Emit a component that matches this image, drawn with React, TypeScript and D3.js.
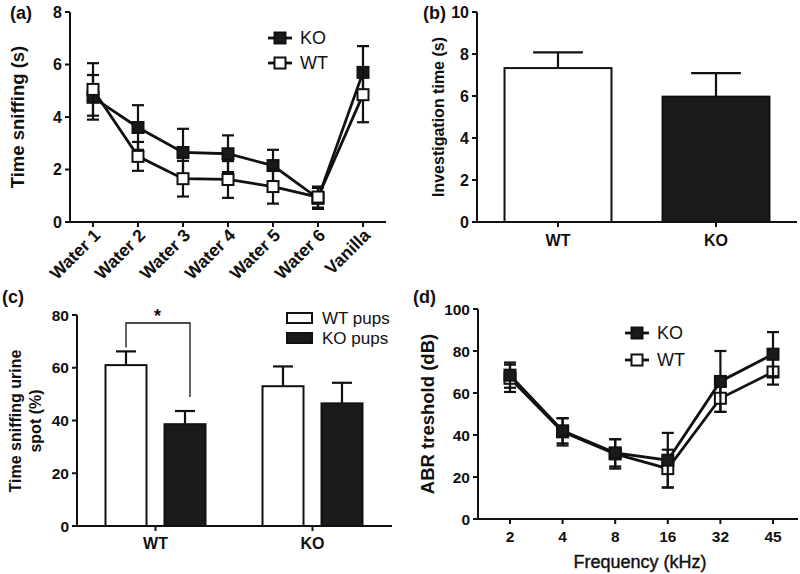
import React from "react";
import * as d3 from "d3";

// ---------- Data ----------
// Panel (a)
const catsA = ["Water 1", "Water 2", "Water 3", "Water 4", "Water 5", "Water 6", "Vanilla"];
const koA = [4.75, 3.6, 2.65, 2.6, 2.15, 0.9, 5.7];
const koAErr = [0.85, 0.85, 0.9, 0.7, 0.6, 0.4, 1.0];
const wtA = [5.05, 2.5, 1.65, 1.62, 1.35, 0.95, 4.85];
const wtAErr = [1.0, 0.55, 0.68, 0.7, 0.65, 0.4, 1.05];
const ticksA = [0, 2, 4, 6, 8];

// Panel (b)
const catsB = ["WT", "KO"];
const valsB = [7.33, 5.97];
const errB = [0.75, 1.12];
const ticksB = [0, 2, 4, 6, 8, 10];

// Panel (c)
const groupsC = ["WT", "KO"];
const subC = ["WT pups", "KO pups"];
const wtPupsC = [61, 53];
const wtPupsErr = [5.2, 7.5];
const koPupsC = [38.6, 46.5];
const koPupsErr = [5.0, 7.8];
const ticksC = [0, 20, 40, 60, 80];

// Panel (d)
const freqsD = ["2", "4", "8", "16", "32", "45"];
const koD = [68.5, 42, 31.5, 28, 65.5, 78.5];
const koDErr = [6, 6, 6.5, 13, 14.5, 10.5];
const wtD = [67, 41.5, 31, 24, 57.5, 70];
const wtDErr = [6.5, 6.5, 7, 9, 6.5, 6];
const ticksD = [0, 20, 40, 60, 80, 100];

const FONT = "'Liberation Sans', Arial, Helvetica, sans-serif";
const DARK = "#1a1a1a";

type Pt = { x: number; y: number; e: number };

function Series({ pts, y, filled, cap = 6 }: { pts: Pt[]; y: d3.ScaleLinear<number, number>; filled: boolean; cap?: number }) {
  const line = d3.line<Pt>().x((d) => d.x).y((d) => y(d.y));
  return (
    <g>
      <path d={line(pts) || ""} fill="none" stroke="#111" strokeWidth={2.8} />
      {pts.map((p, i) => (
        <g key={i} stroke="#111" strokeWidth={2.2}>
          <line x1={p.x} x2={p.x} y1={y(p.y - p.e)} y2={y(p.y + p.e)} />
          <line x1={p.x - cap} x2={p.x + cap} y1={y(p.y + p.e)} y2={y(p.y + p.e)} />
          <line x1={p.x - cap} x2={p.x + cap} y1={y(p.y - p.e)} y2={y(p.y - p.e)} />
        </g>
      ))}
      {pts.map((p, i) => (
        <rect key={"m" + i} x={p.x - 5.5} y={y(p.y) - 5.5} width={11} height={11}
          fill={filled ? DARK : "#fff"} stroke="#111" strokeWidth={2} />
      ))}
    </g>
  );
}

function YAxis({ x, y, ticks, size }: { x: number; y: d3.ScaleLinear<number, number>; ticks: number[]; size: number }) {
  const [r0, r1] = y.range();
  return (
    <g>
      <line x1={x} x2={x} y1={r0 + 1} y2={r1} stroke="#111" strokeWidth={2} />
      {ticks.map((t) => (
        <g key={t}>
          <line x1={x - 5} x2={x} y1={y(t)} y2={y(t)} stroke="#111" strokeWidth={2} />
          <text x={x - 8} y={y(t)} dy="0.36em" textAnchor="end" fontFamily={FONT} fontWeight="bold" fontSize={size} fill="#111">{t}</text>
        </g>
      ))}
    </g>
  );
}

function LegendLine({ x, y, filled, label }: { x: number; y: number; filled: boolean; label: string }) {
  return (
    <g>
      <line x1={x - 12} x2={x + 12} y1={y} y2={y} stroke="#111" strokeWidth={2.8} />
      <rect x={x - 5.5} y={y - 5.5} width={11} height={11} fill={filled ? DARK : "#fff"} stroke="#111" strokeWidth={2} />
      <text x={x + 20} y={y} dy="0.36em" fontFamily={FONT} fontSize={18} fill="#111">{label}</text>
    </g>
  );
}

export default function App() {
  // ---- Panel (a) ----
  const xA = d3.scalePoint<string>().domain(catsA).range([93, 363]);
  const yA = d3.scaleLinear().domain([0, 8]).range([222, 12]);
  const ptsKoA = catsA.map((c, i) => ({ x: xA(c)!, y: koA[i], e: koAErr[i] }));
  const ptsWtA = catsA.map((c, i) => ({ x: xA(c)!, y: wtA[i], e: wtAErr[i] }));

  // ---- Panel (b) ----
  const xB = d3.scalePoint<string>().domain(catsB).range([479, 795]).padding(0.5);
  const yB = d3.scaleLinear().domain([0, 10]).range([222, 12]);
  const bwB = xB.step() * 0.677;

  // ---- Panel (c) ----
  const xC = d3.scalePoint<string>().domain(groupsC).range([77, 391]).padding(0.5);
  const xSub = d3.scaleBand<string>().domain(subC).range([-50, 50]).paddingInner(0.305);
  const yC = d3.scaleLinear().domain([0, 80]).range([526, 315]);
  const barsC = groupsC.flatMap((g, gi) => [
    { g, s: subC[0], v: wtPupsC[gi], e: wtPupsErr[gi], fill: "#fff" },
    { g, s: subC[1], v: koPupsC[gi], e: koPupsErr[gi], fill: DARK },
  ]);
  const barX = (g: string, s: string) => xC(g)! + xSub(s)!;
  const cx1 = barX("WT", subC[0]) + xSub.bandwidth() / 2;
  const cx2 = barX("WT", subC[1]) + xSub.bandwidth() / 2;

  // ---- Panel (d) ----
  const xD = d3.scalePoint<string>().domain(freqsD).range([510, 773]);
  const yD = d3.scaleLinear().domain([0, 100]).range([519, 309]);
  const ptsKoD = freqsD.map((c, i) => ({ x: xD(c)!, y: koD[i], e: koDErr[i] }));
  const ptsWtD = freqsD.map((c, i) => ({ x: xD(c)!, y: wtD[i], e: wtDErr[i] }));

  return (
    <svg width={800} height={574} viewBox="0 0 800 574" style={{ position: "absolute", left: 0, top: 0, background: "#fff" }}>
      <rect width={800} height={574} fill="#fff" />

      {/* ================= Panel (a) ================= */}
      <text x={10} y={19} fontFamily={FONT} fontWeight="bold" fontSize={18} fill="#111">(a)</text>
      <YAxis x={70} y={yA} ticks={ticksA} size={16} />
      <line x1={69} x2={386} y1={222} y2={222} stroke="#111" strokeWidth={2} />
      {catsA.map((c) => (
        <g key={c}>
          <line x1={xA(c)} x2={xA(c)} y1={222} y2={227} stroke="#111" strokeWidth={2} />
          <text transform={`translate(${xA(c)! + 4},${232}) rotate(-45)`} textAnchor="end" dy="0.35em"
            fontFamily={FONT} fontWeight="bold" fontSize={17.5} fill="#111">{c}</text>
        </g>
      ))}
      <text transform={`translate(${24},${117}) rotate(-90)`} textAnchor="middle" fontFamily={FONT} fontWeight="bold" fontSize={18.5} fill="#111">Time sniffing (s)</text>
      <Series pts={ptsKoA} y={yA} filled={true} />
      <Series pts={ptsWtA} y={yA} filled={false} />
      <LegendLine x={280} y={38} filled={true} label="KO" />
      <LegendLine x={280} y={63} filled={false} label="WT" />

      {/* ================= Panel (b) ================= */}
      <text x={423} y={19} fontFamily={FONT} fontWeight="bold" fontSize={18} fill="#111">(b)</text>
      <text transform={`translate(${444},${117}) rotate(-90)`} textAnchor="middle" fontFamily={FONT} fontWeight="bold" fontSize={16} fill="#111">Investigation time (s)</text>
      {catsB.map((c, i) => {
        const cx = xB(c)!;
        return (
          <g key={c}>
            <line x1={cx} x2={cx} y1={yB(valsB[i])} y2={yB(valsB[i] + errB[i])} stroke="#111" strokeWidth={2.2} />
            <line x1={cx - bwB / 4.3} x2={cx + bwB / 4.3} y1={yB(valsB[i] + errB[i])} y2={yB(valsB[i] + errB[i])} stroke="#111" strokeWidth={2.2} />
            <rect x={cx - bwB / 2} y={yB(valsB[i])} width={bwB} height={yB(0) - yB(valsB[i])}
              fill={i === 0 ? "#fff" : DARK} stroke="#111" strokeWidth={2} />
            <line x1={cx} x2={cx} y1={222} y2={227} stroke="#111" strokeWidth={2} />
            <text x={cx} y={246} textAnchor="middle" fontFamily={FONT} fontWeight="bold" fontSize={16} fill="#111">{c}</text>
          </g>
        );
      })}
      <YAxis x={477} y={yB} ticks={ticksB} size={16} />
      <line x1={476} x2={797} y1={222} y2={222} stroke="#111" strokeWidth={2} />

      {/* ================= Panel (c) ================= */}
      <text x={2} y={303} fontFamily={FONT} fontWeight="bold" fontSize={18} fill="#111">(c)</text>
      <text transform={`translate(${21},${421}) rotate(-90)`} textAnchor="middle" fontFamily={FONT} fontWeight="bold" fontSize={16} fill="#111">Time sniffing urine</text>
      <text transform={`translate(${41},${421}) rotate(-90)`} textAnchor="middle" fontFamily={FONT} fontWeight="bold" fontSize={16} fill="#111">spot (%)</text>
      {barsC.map((b, i) => {
        const x0 = barX(b.g, b.s);
        const w = xSub.bandwidth();
        const cx = x0 + w / 2;
        return (
          <g key={i}>
            <line x1={cx} x2={cx} y1={yC(b.v)} y2={yC(b.v + b.e)} stroke="#111" strokeWidth={2.2} />
            <line x1={cx - 10} x2={cx + 10} y1={yC(b.v + b.e)} y2={yC(b.v + b.e)} stroke="#111" strokeWidth={2.2} />
            <rect x={x0} y={yC(b.v)} width={w} height={yC(0) - yC(b.v)} fill={b.fill} stroke="#111" strokeWidth={2} />
          </g>
        );
      })}
      {groupsC.map((g) => (
        <g key={g}>
          <line x1={xC(g)} x2={xC(g)} y1={526} y2={531} stroke="#111" strokeWidth={2} />
          <text x={xC(g)} y={549} textAnchor="middle" fontFamily={FONT} fontWeight="bold" fontSize={16} fill="#111">{g}</text>
        </g>
      ))}
      <YAxis x={77} y={yC} ticks={ticksC} size={15.5} />
      <line x1={76} x2={392} y1={526} y2={526} stroke="#111" strokeWidth={2} />
      {/* significance bracket */}
      <path d={`M${cx1},${yC(wtPupsC[0] + wtPupsErr[0]) - 4} V${323} H${cx2 + 5} V${397}`} fill="none" stroke="#111" strokeWidth={1.3} />
      <text x={(cx1 + cx2) / 2 + 2} y={322} textAnchor="middle" fontFamily={FONT} fontWeight="bold" fontSize={18} fill="#111">*</text>
      {/* legend */}
      <rect x={287} y={313} width={25} height={10} fill="#fff" stroke="#111" strokeWidth={2} />
      <text x={322} y={318} dy="0.36em" fontFamily={FONT} fontSize={17} fill="#111">WT pups</text>
      <rect x={287} y={333} width={25} height={10} fill={DARK} stroke="#111" strokeWidth={2} />
      <text x={322} y={338} dy="0.36em" fontFamily={FONT} fontSize={17} fill="#111">KO pups</text>

      {/* ================= Panel (d) ================= */}
      <text x={413} y={303} fontFamily={FONT} fontWeight="bold" fontSize={18} fill="#111">(d)</text>
      <text transform={`translate(${434},${414}) rotate(-90)`} textAnchor="middle" fontFamily={FONT} fontWeight="bold" fontSize={18.5} fill="#111">ABR treshold (dB)</text>
      <YAxis x={478} y={yD} ticks={ticksD} size={15.5} />
      <line x1={477} x2={798} y1={519} y2={519} stroke="#111" strokeWidth={2} />
      {freqsD.map((f) => (
        <g key={f}>
          <line x1={xD(f)} x2={xD(f)} y1={519} y2={524} stroke="#111" strokeWidth={2} />
          <text x={xD(f)} y={542} textAnchor="middle" fontFamily={FONT} fontWeight="bold" fontSize={15.5} fill="#111">{f}</text>
        </g>
      ))}
      <text x={640} y={568} textAnchor="middle" fontFamily={FONT} fontSize={18} fill="#111" stroke="#111" strokeWidth={0.4}>Frequency (kHz)</text>
      <Series pts={ptsWtD} y={yD} filled={false} />
      <Series pts={ptsKoD} y={yD} filled={true} />
      <LegendLine x={637} y={333} filled={true} label="KO" />
      <LegendLine x={637} y={360} filled={false} label="WT" />
    </svg>
  );
}
